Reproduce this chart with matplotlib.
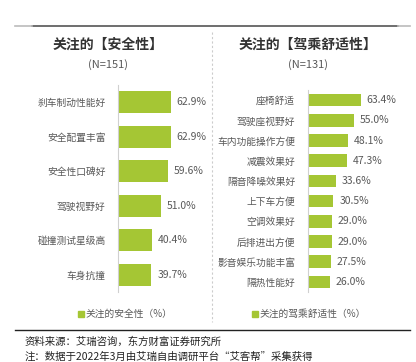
import matplotlib
matplotlib.use('Agg')
import matplotlib.pyplot as plt
from matplotlib.lines import Line2D
from matplotlib.patches import Rectangle

plt.rcParams['font.family'] = ['Noto Sans CJK SC', 'DejaVu Sans']

W, H = 416, 362
green = '#A5C634'
grey = '#595959'

# left panel data
safety_labels = ['刹车制动性能好', '安全配置丰富', '安全性口碑好', '驾驶视野好', '碰撞测试星级高', '车身抗撞']
safety_vals = [62.9, 62.9, 59.6, 51.0, 40.4, 39.7]

# right panel data
comfort_labels = ['座椅舒适', '驾驶座视野好', '车内功能操作方便', '减震效果好', '隔音降噪效果好',
                  '上下车方便', '空调效果好', '后排进出方便', '影音娱乐功能丰富', '隔热性能好']
comfort_vals = [63.4, 55.0, 48.1, 47.3, 33.6, 30.5, 29.0, 29.0, 27.5, 26.0]

fig = plt.figure(figsize=(W / 100, H / 100), dpi=100)


def fx(x):
    return x / W


def fy(y):
    return 1 - y / H


def panel(x0, top, bottom, labels, vals, bar_h):
    ax = fig.add_axes([fx(x0), fy(bottom), 84 / W, (bottom - top) / H])
    y = range(len(vals))
    ax.barh(y, vals, height=bar_h, color=green)
    ax.set_xlim(0, 100)
    ax.set_ylim(len(vals) - 0.5, -0.5)
    for s in ['top', 'right', 'bottom']:
        ax.spines[s].set_visible(False)
    ax.spines['left'].set_color('#d0d0d0')
    ax.spines['left'].set_linewidth(0.8)
    ax.set_xticks([])
    ax.set_yticks(list(y))
    ax.set_yticklabels(labels, fontsize=7, color=grey)
    ax.tick_params(axis='y', length=0, pad=9)
    for i, v in enumerate(vals):
        ax.text(v + 7, i, f'{v:.1f}%', va='center', ha='left', fontsize=7.5, color=grey)
    return ax


panel(118, 85, 292, safety_labels, safety_vals, 0.64)
panel(307.7, 90, 292, comfort_labels, comfort_vals, 0.62)

# titles
fig.text(fx(108), fy(45), '关注的【安全性】', ha='center', va='center',
         fontsize=10, fontweight='bold', color='#333333')
fig.text(fx(108), fy(65), '(N=151)', ha='center', va='center', fontsize=8, color=grey)
fig.text(fx(308), fy(45), '关注的【驾乘舒适性】', ha='center', va='center',
         fontsize=10, fontweight='bold', color='#333333')
fig.text(fx(308), fy(65), '(N=131)', ha='center', va='center', fontsize=8, color=grey)

# legends
for mx, txt in [(78, '关注的安全性（%）'), (252, '关注的驾乘舒适性（%）')]:
    fig.patches.append(Rectangle((fx(mx), fy(317)), 6 / W, 6 / H, color=green,
                                 transform=fig.transFigure))
    fig.text(fx(mx + 8), fy(314), txt, ha='left', va='center', fontsize=7, color=grey)

# frame lines
fig.add_artist(Line2D([fx(32), fx(398)], [fy(26), fy(26)], color='#555555', lw=1.2))
fig.add_artist(Line2D([fx(15), fx(32)], [fy(26), fy(26)], color='#bbbbbb', lw=1.2))
fig.add_artist(Line2D([fx(398), fx(410)], [fy(26), fy(26)], color='#bbbbbb', lw=1.2))
fig.add_artist(Line2D([fx(212), fx(212)], [fy(32), fy(322)], color='#cccccc', lw=0.8,
                      linestyle=(0, (2, 2))))
fig.add_artist(Line2D([fx(15), fx(410)], [fy(330), fy(330)], color='#222222', lw=1.0))

# footer
fig.text(fx(25), fy(342), '资料来源：艾瑞咨询，东方财富证券研究所', ha='left', va='center',
         fontsize=7.5, color='#222222')
fig.text(fx(25), fy(357), '注：数据于2022年3月由艾瑞自由调研平台“艾客帮”采集获得', ha='left',
         va='center', fontsize=7.5, color='#222222')

fig.savefig('out.png', dpi=100)
